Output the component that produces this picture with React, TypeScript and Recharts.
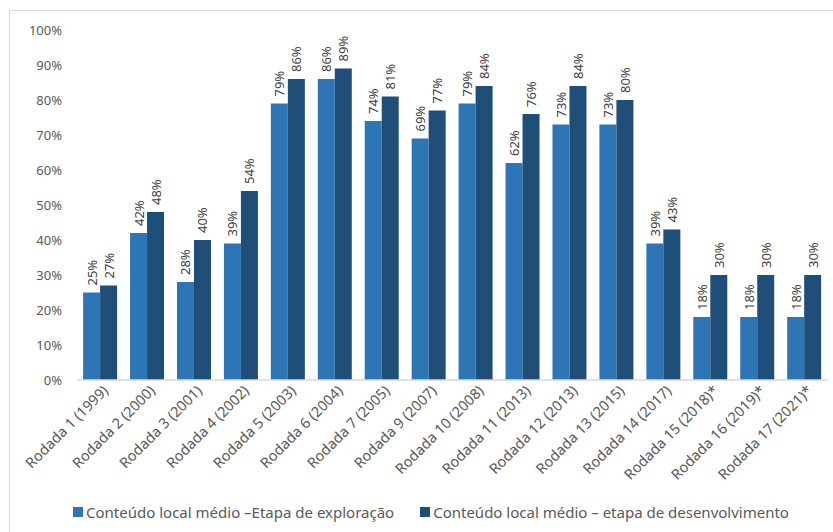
import { BarChart, Bar, XAxis, YAxis, Legend, LabelList } from 'recharts';

const categories = [
  'Rodada 1 (1999)',
  'Rodada 2 (2000)',
  'Rodada 3 (2001)',
  'Rodada 4 (2002)',
  'Rodada 5 (2003)',
  'Rodada 6 (2004)',
  'Rodada 7 (2005)',
  'Rodada 9 (2007)',
  'Rodada 10 (2008)',
  'Rodada 11 (2013)',
  'Rodada 12 (2013)',
  'Rodada 13 (2015)',
  'Rodada 14 (2017)',
  'Rodada 15 (2018)*',
  'Rodada 16 (2019)*',
  'Rodada 17 (2021)*',
];
const exploracao = [25, 42, 28, 39, 79, 86, 74, 69, 79, 62, 73, 73, 39, 18, 18, 18];
const desenvolvimento = [27, 48, 40, 54, 86, 89, 81, 77, 84, 76, 84, 80, 43, 30, 30, 30];
const yTicks = [0, 10, 20, 30, 40, 50, 60, 70, 80, 90, 100];

const seriesNames = {
  exploracao: 'Conteúdo local médio –Etapa de exploração',
  desenvolvimento: 'Conteúdo local médio – etapa de desenvolvimento',
};
const lightBlue = '#2E75B6';
const darkBlue = '#1F4E79';

const legendItems = [
  { name: seriesNames.exploracao, color: lightBlue },
  { name: seriesNames.desenvolvimento, color: darkBlue },
];

const data = categories.map((name, i) => ({
  name,
  exploracao: exploracao[i],
  desenvolvimento: desenvolvimento[i],
}));

// rotated category labels, anchored at the end
const XTick = ({ x, y, payload }: any) => (
  <g transform={`translate(${x + 3},${y - 2})`}>
    <text x={0} y={0} dy={8} textAnchor="end" transform="rotate(-45)" fill="#595959" fontSize={14.5}>
      {payload.value}
    </text>
  </g>
);

// vertical value labels above each bar
const BarValue = ({ x, y, width, value }: any) => {
  const cx = x + width / 2;
  const cy = y - 7;
  return (
    <text
      x={cx}
      y={cy}
      transform={`rotate(-90, ${cx}, ${cy})`}
      textAnchor="start"
      dominantBaseline="central"
      fill="#404040"
      fontSize={13}
    >
      {`${value}%`}
    </text>
  );
};

// keep series order as in the source (recharts would sort by name)
const LegendContent = () => (
  <div style={{ display: 'flex', justifyContent: 'center', paddingLeft: 24, height: 22, alignItems: 'center' }}>
    {legendItems.map((item, i) => (
      <div key={i} style={{ display: 'flex', alignItems: 'center', marginRight: i === 0 ? 26 : 0 }}>
        <span style={{ width: 10, height: 10, background: item.color, marginRight: 3, display: 'inline-block' }} />
        <span style={{ fontSize: 15, color: '#595959' }}>{item.name}</span>
      </div>
    ))}
  </div>
);

export default function App() {
  return (
    <div style={{ paddingLeft: 9, paddingTop: 10, boxSizing: 'border-box' }}>
      <style>{'body{margin:0}'}</style>
      <div
        style={{
          width: 823,
          height: 521,
          borderLeft: '1px solid #D9D9D9',
          borderTop: '1px solid #D9D9D9',
          fontFamily: '"Noto Sans", sans-serif',
          background: '#fff',
        }}
      >
        <BarChart
          width={823}
          height={521}
          data={data}
          margin={{ top: 19, right: 5, left: 0, bottom: 9 }}
          barCategoryGap="13%"
          barGap={0}
        >
          <XAxis
            dataKey="name"
            interval={0}
            height={121}
            tick={<XTick />}
            tickLine={false}
            axisLine={{ stroke: '#D9D9D9', strokeWidth: 1.5 }}
          />
          <YAxis
            domain={[0, 100]}
            ticks={yTicks}
            width={67}
            tickMargin={9}
            tickFormatter={(v: number) => `${v}%`}
            tick={{ fill: '#595959', fontSize: 13 }}
            axisLine={false}
            tickLine={false}
          />
          <Legend verticalAlign="bottom" content={<LegendContent />} />
          <Bar dataKey="exploracao" name={seriesNames.exploracao} fill={lightBlue} isAnimationActive={false}>
            <LabelList dataKey="exploracao" content={<BarValue />} />
          </Bar>
          <Bar dataKey="desenvolvimento" name={seriesNames.desenvolvimento} fill={darkBlue} isAnimationActive={false}>
            <LabelList dataKey="desenvolvimento" content={<BarValue />} />
          </Bar>
        </BarChart>
      </div>
    </div>
  );
}
